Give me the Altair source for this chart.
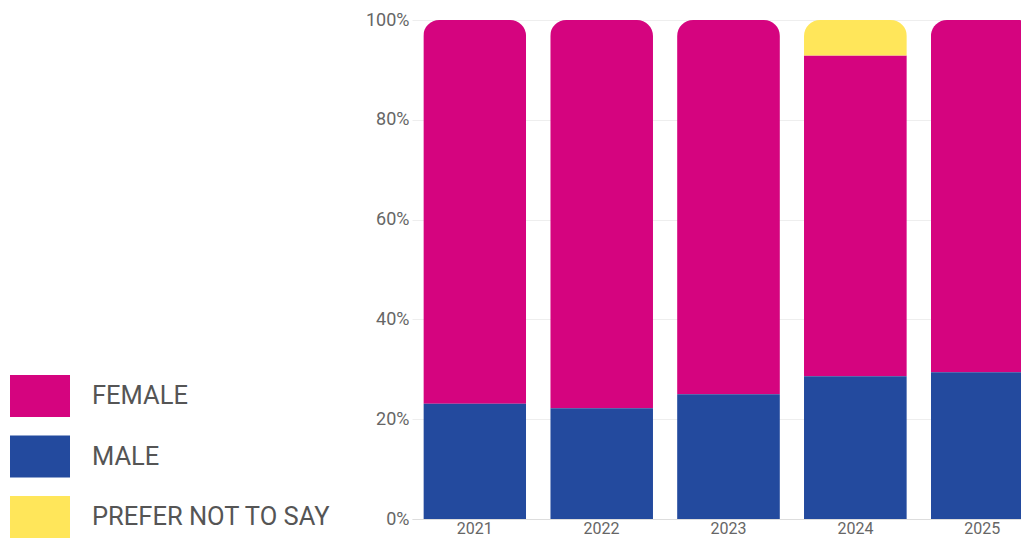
import altair as alt
import pandas as pd

years = ["2021", "2022", "2023", "2024", "2025"]
categories = ["FEMALE", "MALE", "PREFER NOT TO SAY"]
female = [76.9, 77.8, 75.0, 64.3, 70.6]
male = [23.1, 22.2, 25.0, 28.6, 29.4]
prefer = [0.0, 0.0, 0.0, 7.1, 0.0]
colors = ["#D5047F", "#234A9E", "#FFE65A"]
stack_order = {"MALE": 0, "FEMALE": 1, "PREFER NOT TO SAY": 2}

rows = []
for i, y in enumerate(years):
    for cat, vals in zip(categories, [female, male, prefer]):
        rows.append({"year": y, "gender": cat, "value": vals[i], "ord": stack_order[cat]})
df = pd.DataFrame(rows)

chart = (
    alt.Chart(df)
    .mark_bar(cornerRadiusTopLeft=16, cornerRadiusTopRight=16)
    .encode(
        x=alt.X(
            "year:N",
            title=None,
            scale=alt.Scale(range=[0, 633], paddingInner=0.19, paddingOuter=0.089),
            axis=alt.Axis(
                labelAngle=0,
                ticks=False,
                domain=True,
                domainColor="#dddddd",
                labelFont="Roboto",
                labelFontSize=16,
                labelColor="#666666",
                labelPadding=1,
                grid=False,
            ),
        ),
        y=alt.Y(
            "value:Q",
            stack="normalize",
            title=None,
            scale=alt.Scale(domain=[0, 1], nice=False),
            axis=alt.Axis(
                values=[0, 0.2, 0.4, 0.6, 0.8, 1.0],
                format=".0%",
                ticks=False,
                domain=False,
                gridColor="#eeeeee",
                labelFont="Roboto",
                labelFontSize=18,
                labelColor="#666666",
                labelPadding=3,
            ),
        ),
        color=alt.Color(
            "gender:N",
            scale=alt.Scale(domain=categories, range=colors),
            legend=alt.Legend(
                title=None,
                orient="none",
                legendX=-402,
                legendY=346,
                symbolType="M-1,-0.7H1V0.7H-1Z",
                symbolSize=3600,
                symbolStrokeWidth=0,
                symbolOpacity=1,
                labelOffset=22,
                labelFont="Roboto",
                labelFontSize=25.5,
                labelColor="#555555",
                labelLimit=0,
                rowPadding=9.5,
                padding=0,
            ),
        ),
        order=alt.Order("ord:Q", sort="ascending"),
    )
    .properties(
        width=609,
        height=499,
        autosize=alt.AutoSizeParams(type="none"),
        padding={"left": 404, "top": 12, "right": 0, "bottom": 20},
    )
    .configure_view(stroke=None)
)

chart.save("out.html", embed_options={"renderer": "svg", "actions": False})
